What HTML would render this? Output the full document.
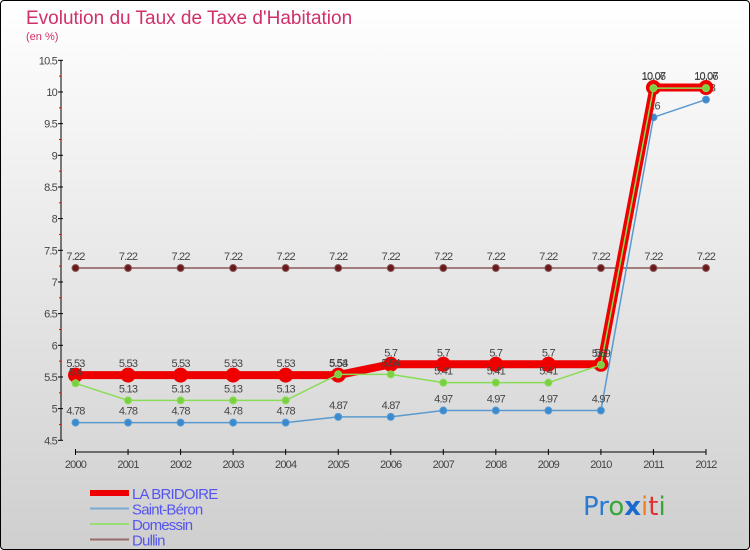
<!DOCTYPE html>
<html><head><meta charset="utf-8"><style>
body{margin:0;width:750px;height:550px;overflow:hidden;font-family:"Liberation Sans",sans-serif}
#wrap{position:absolute;left:0;top:0;width:748px;height:548px;border:1px solid #000;border-radius:4px;background:linear-gradient(#ffffff,#cfcfcf)}
</style></head><body>
<div id="wrap"></div>
<svg id="chart" width="750" height="550" style="position:absolute;left:0;top:0">
<text x="26" y="24" font-size="19" fill="#d0306a">Evolution du Taux de Taxe d'Habitation</text>
<text x="26" y="40" font-size="11" fill="#d0306a">(en %)</text>
<g id="axes"></g><g id="series"></g><g id="legend"></g>
<text x="583" y="515" font-size="26" font-family="DejaVu Sans,sans-serif"><tspan fill="#2a7bd0">Pr</tspan><tspan fill="#3aa53a">o</tspan><tspan fill="#1a6ad0" font-weight="bold">x</tspan><tspan fill="#f08020">i</tspan><tspan fill="#e03030">t</tspan><tspan fill="#3aa53a">i</tspan></text>
</svg>
<script>
const years=[2000,2001,2002,2003,2004,2005,2006,2007,2008,2009,2010,2011,2012];
const yTicks=[4.5,5,5.5,6,6.5,7,7.5,8,8.5,9,9.5,10,10.5];
const laBridoire=[5.53,5.53,5.53,5.53,5.53,5.53,5.7,5.7,5.7,5.7,5.7,10.07,10.07];
const saintBeron=[4.78,4.78,4.78,4.78,4.78,4.87,4.87,4.97,4.97,4.97,4.97,9.6,9.88];
const domessin=[5.4,5.13,5.13,5.13,5.13,5.54,5.54,5.41,5.41,5.41,5.69,10.06,10.06];
const dullin=[7.22,7.22,7.22,7.22,7.22,7.22,7.22,7.22,7.22,7.22,7.22,7.22,7.22];
const NS="http://www.w3.org/2000/svg";
function X(i){return 75.5+i*52.54;}
function Y(v){return 440.3-(v-4.5)*63.33;}
function mk(tag,attrs,parent){const e=document.createElementNS(NS,tag);for(const k in attrs)e.setAttribute(k,attrs[k]);parent.appendChild(e);return e;}
const axes=document.getElementById('axes');
let yl=mk('line',{x1:61,y1:Y(10.5),x2:61,y2:Y(4.5),stroke:'#000','stroke-width':1},axes);


yTicks.forEach((t,i)=>{
  mk('line',{x1:58,y1:Y(t),x2:63,y2:Y(t),stroke:'#000'},axes);
  if(i<yTicks.length-1)mk('line',{x1:59,y1:Y(t+0.25),x2:61,y2:Y(t+0.25),stroke:'#e00'},axes);
  const tx=mk('text',{x:57,y:Y(t)+4,'font-size':11,fill:'#444','text-anchor':'end','letter-spacing':'-0.8'},axes);
  tx.textContent=t;
  
  
});
let xl=mk('line',{x1:X(0),y1:452,x2:X(12),y2:452,stroke:'#000'},axes);


years.forEach((yr,i)=>{
  mk('line',{x1:X(i),y1:449,x2:X(i),y2:455,stroke:'#000'},axes);
  const tx=mk('text',{x:X(i),y:468,'font-size':11,fill:'#444','text-anchor':'middle','letter-spacing':'-0.8'},axes);
  tx.textContent=yr;
  
  
});
const sg=document.getElementById('series');
function draw(vals,color,w,r,fill,name,labelDy){
  const g=mk('g',{},sg);
  
  
  const pl=mk('polyline',{points:vals.map((v,i)=>X(i)+','+Y(v)).join(' '),fill:'none',stroke:color,'stroke-width':w},g);
  
  
  vals.forEach((v,i)=>{
    const c=mk('circle',{cx:X(i),cy:Y(v),r:r,fill:fill,stroke:color,'stroke-width':1},g);
    
    
    const t=mk('text',{x:X(i),y:Y(v)+labelDy,'font-size':11,fill:'#444','text-anchor':'middle','letter-spacing':'-0.8'},g);
    t.textContent=v;
    
    
  });
}
draw(dullin,'#8a5a5a',1.5,3.5,'#6a1a1a','dullin',-8);
draw(saintBeron,'#5a9ad0',1.5,3.5,'#3a8ad0','saint-beron',-8);
draw(laBridoire,'#ee0000',8,7,'#ee0000','la-bridoire',-8);
draw(domessin,'#88dd55',1.5,3.5,'#7ad040','domessin',-8);
const lg=document.getElementById('legend');
const legItems=[['LA BRIDOIRE','#ee0000',6],['Saint-Béron','#7aaad0',2],['Domessin','#99dd77',2],['Dullin','#9a6a6a',2]];
legItems.forEach((it,i)=>{
  const y=493+i*15.5;
  const g=mk('g',{},lg);
  
  
  mk('line',{x1:90,y1:y,x2:129,y2:y,stroke:it[1],'stroke-width':it[2]},g);
  const t=mk('text',{x:132,y:y+6,'font-size':15,fill:'#5555ee','letter-spacing':'-0.8'},g);
  t.textContent=it[0];
});
</script>
</body></html>
